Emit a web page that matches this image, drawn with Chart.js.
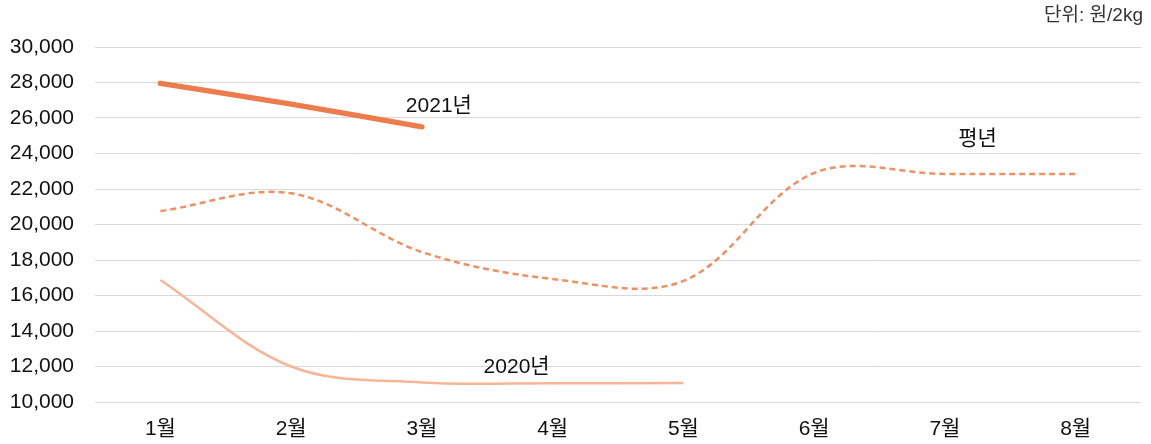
<!DOCTYPE html>
<html lang="ko">
<head>
<meta charset="utf-8">
<title>가격 추이</title>
<script src="https://cdn.jsdelivr.net/npm/chart.js@4/dist/chart.umd.min.js"></script>
<style>
  html, body { margin: 0; padding: 0; background: #fff; }
  #wrap { width: 1151px; height: 444px; position: relative; }
</style>
</head>
<body>
<div id="wrap"><canvas id="priceChart"></canvas></div>
<script>
// data
const months = ["1월", "2월", "3월", "4월", "5월", "6월", "7월", "8월"];
const price2021 = [27950, 26780, 25500];
const priceAvg = [20760, 21760, 18450, 16930, 16820, 22900, 22850, 22850];
const price2020 = [16870, 12000, 11100, 11060, 11070];
const yTicks = [10000, 12000, 14000, 16000, 18000, 20000, 22000, 24000, 26000, 28000, 30000];
const unitText = "단위: 원/2kg";

const FONT = "'Liberation Sans', 'Noto Sans CJK KR', Arial, sans-serif";

/* series labels drawn next to the lines */
const seriesLabels = {
  id: "seriesLabels",
  afterDatasetsDraw(chart) {
    const { ctx, scales: { x, y } } = chart;
    ctx.save();
    ctx.font = "21px " + FONT;
    ctx.fillStyle = "#111";
    ctx.textAlign = "center";
    ctx.textBaseline = "middle";

    // 2021년 : just above the last 2021 point
    ctx.fillText("2021년", x.getPixelForValue(2) + 17, y.getPixelForValue(price2021[2]) - 21);
    // 평년 : above the flat tail
    ctx.fillText("평년", x.getPixelForValue(6.25), y.getPixelForValue(priceAvg[7]) - 35);
    // 2020년 : above the 4월 point
    ctx.fillText("2020년", x.getPixelForValue(3) - 36, y.getPixelForValue(price2020[3]) - 16);

    // unit note, top right
    ctx.font = "19px " + FONT;
    ctx.fillStyle = "#333";
    ctx.textAlign = "right";
    ctx.fillText(unitText, chart.width - 8, 16);
    ctx.restore();
  }
};

new Chart(document.getElementById("priceChart"), {
  type: "line",
  data: {
    labels: months,
    datasets: [
      {
        label: "2020년",
        data: price2020,
        borderColor: "#f7b597",
        borderWidth: 2.5,
        pointRadius: 0,
        tension: 0.35,
        order: 3
      },
      {
        label: "평년",
        data: priceAvg,
        borderColor: "#f08f62",
        borderWidth: 2.5,
        borderDash: [6, 4],
        pointRadius: 0,
        tension: 0.35,
        order: 2
      },
      {
        label: "2021년",
        data: price2021,
        borderColor: "#ec7c4b",
        borderWidth: 5.5,
        borderCapStyle: "round",
        pointRadius: 0,
        tension: 0.35,
        order: 1
      }
    ]
  },
  options: {
    responsive: true,
    maintainAspectRatio: false,
    animation: false,
    layout: { padding: { top: 47, right: 10, left: 0, bottom: 0 } },
    plugins: {
      legend: { display: false },
      tooltip: { enabled: false }
    },
    scales: {
      x: {
        offset: true,
        grid: { display: false, drawTicks: false },
        border: { display: false },
        ticks: {
          color: "#111",
          padding: 15,
          font: { family: FONT, size: 21 }
        },
        afterFit(scale) { scale.height = 42; }
      },
      y: {
        min: 10000,
        max: 30000,
        afterBuildTicks(scale) { scale.ticks = yTicks.map(v => ({ value: v })); },
        grid: { color: "#d9d9d9", lineWidth: 1, drawTicks: false },
        border: { display: false },
        ticks: {
          color: "#111",
          padding: 21,
          font: { family: FONT, size: 21 },
          callback: v => v.toLocaleString("en-US")
        },
        afterFit(scale) { scale.width = 95; }
      }
    }
  },
  plugins: [seriesLabels]
});
</script>
</body>
</html>
